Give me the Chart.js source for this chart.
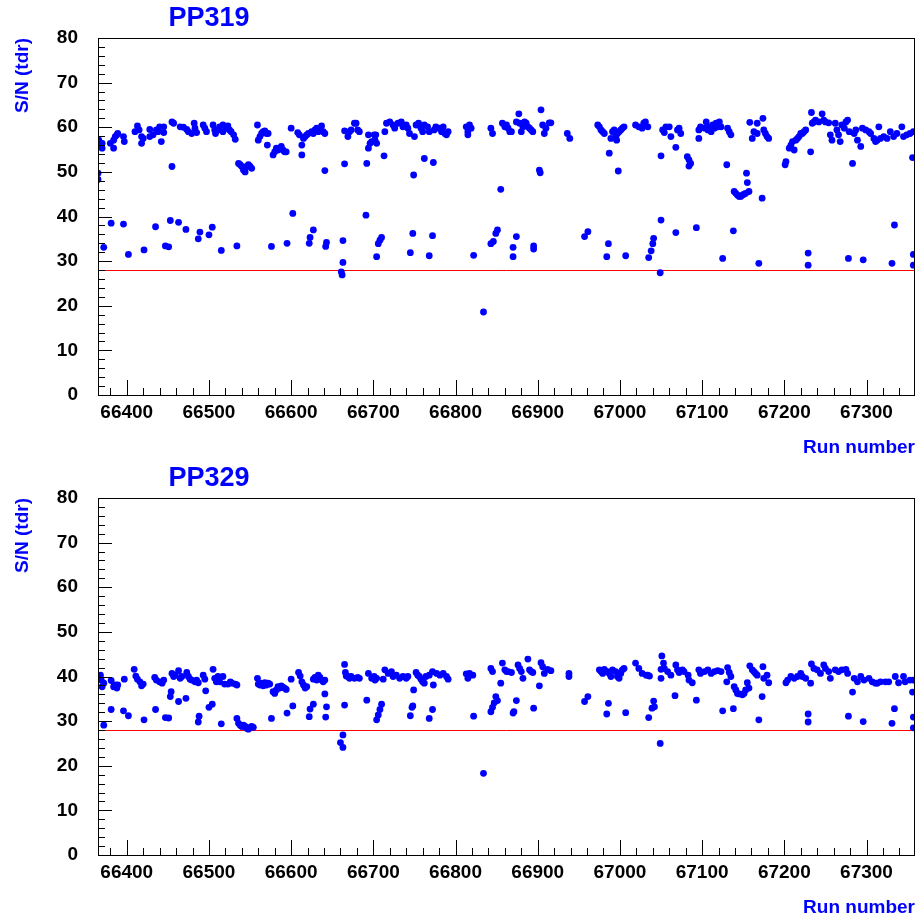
<!DOCTYPE html>
<html>
<head>
<meta charset="utf-8">
<script src="https://cdn.jsdelivr.net/npm/chart.js@4.4.1/dist/chart.umd.min.js"></script>
<style>
  body { margin: 0; background: #fff; }
  canvas { display: block; }
</style>
</head>
<body>
<canvas id="pp319" width="919" height="460"></canvas>
<canvas id="pp329" width="919" height="460"></canvas>
<script>
// axis ranges and tick labels
const runMin = 66365, runMax = 67359;
const snMin = 0, snMax = 80;
const runTicks = [66400, 66500, 66600, 66700, 66800, 66900, 67000, 67100, 67200, 67300];
const threshold = 28;

// PP319 : run number / S/N
const runs319 = [
  66365, 66365, 66366, 66368, 66370, 66370, 66380, 66384, 66384, 66386, 66388, 66389, 66396, 66397,
  66410, 66413, 66415, 66418, 66418, 66420, 66428, 66428, 66432, 66436, 66438, 66440, 66442, 66445, 66445,
  66455, 66457, 66455, 66465, 66469, 66473, 66475, 66479, 66482, 66483, 66485, 66493, 66495, 66497,
  66505, 66507, 66508, 66511, 66513, 66517, 66517, 66521, 66523, 66525, 66527, 66530, 66532,
  66536, 66538, 66540, 66542, 66544, 66546, 66548, 66550, 66552,
  66559, 66560, 66562, 66564, 66566, 66568, 66570, 66572, 66571,
  66578, 66580, 66582, 66584, 66586, 66588, 66590, 66592, 66594,
  66600, 66608, 66610, 66613, 66613, 66615, 66617, 66619, 66621,
  66625, 66627, 66629, 66631, 66633, 66635, 66637, 66639, 66641, 66641,
  66661, 66662, 66663, 66663, 66665, 66665, 66669, 66671, 66673, 66677, 66679, 66681, 66683,
  66691, 66692, 66694, 66696, 66694, 66698, 66701,
  66372, 66381, 66396, 66402, 66421, 66435, 66447, 66451, 66453, 66463, 66472, 66487, 66489,
  66500, 66504, 66515, 66534, 66576, 66595, 66602, 66622, 66623, 66627, 66642, 66643,
  66702, 66704, 66703, 66713, 66714, 66716, 66720, 66724, 66726, 66730, 66734, 66736, 66740, 66742, 66744,
  66749, 66750, 66752, 66755, 66758, 66760, 66762, 66762, 66766, 66768, 66773,
  66774, 66776, 66780, 66783, 66785, 66787, 66789, 66791,
  66813, 66815, 66817, 66819, 66815, 66843, 66845, 66855,
  66857, 66860, 66862, 66864, 66866, 66868,
  66874, 66877, 66878, 66880, 66882, 66884, 66886, 66888, 66890, 66892, 66894,
  66902, 66903, 66904, 66906, 66908, 66910, 66914, 66916, 66936, 66939,
  66973, 66975, 66977, 66979, 66981, 66987, 66989, 66991, 66993, 66995, 66996, 66997, 66998, 66999, 67001, 67003, 67005,
  67019, 67023, 67027, 67029, 67031, 67034,
  66704, 66706, 66708, 66710, 66745, 66748, 66768, 66772, 66822, 66834,
  66843, 66846, 66849, 66851, 66870, 66870, 66874, 66895, 66895, 66957, 66961, 66984, 66986, 67007, 67035,
  67050, 67052, 67054, 67056, 67060, 67062, 67068, 67070, 67072, 67074,
  67082, 67084, 67084, 67086,
  67096, 67096, 67098, 67103, 67105, 67107, 67109, 67111, 67113, 67115, 67117, 67119, 67121, 67123,
  67130, 67131, 67133, 67135,
  67139, 67141, 67143, 67145, 67147, 67149, 67151, 67153, 67154, 67155, 67157,
  67158, 67161, 67163, 67167, 67167, 67173, 67174, 67175, 67177, 67179, 67181,
  67201, 67202, 67206, 67208, 67210, 67212, 67214, 67216, 67218, 67220, 67222, 67224, 67226,
  67232, 67233, 67234, 67236, 67238, 67242, 67246, 67248, 67250, 67254,
  67256, 67258, 67262, 67264, 67266, 67268, 67270, 67273, 67275, 67277, 67279, 67283,
  67285, 67287, 67289, 67293, 67295, 67299, 67303, 67305, 67309, 67311, 67313, 67315,
  67317, 67321, 67325, 67329, 67333, 67337, 67343, 67345, 67349, 67353, 67357, 67356,
  67038, 67040, 67041, 67049, 67050, 67068, 67093, 67125, 67138, 67169,
  67229, 67229, 67278, 67296, 67331, 67334, 67357, 67357
];
const sn319 = [
  49.7, 48.3, 57.1, 56.4, 55.3, 56.4, 56.4, 57.1, 55.3, 57.9, 58.3, 58.6, 57.9, 56.8,
  59.0, 60.3, 59.4, 57.9, 56.4, 57.5, 59.5, 57.9, 58.3, 59.4, 59.0, 60.1, 56.8, 60.1, 58.8,
  61.2, 60.9, 51.2, 60.1, 60.0, 59.5, 59.0, 58.6, 60.9, 59.8, 58.8, 60.5, 59.8, 59.0,
  60.5, 59.4, 58.6, 59.4, 60.1, 60.5, 59.0, 59.8, 60.3, 59.4, 59.0, 58.3, 57.3,
  51.9, 51.6, 51.2, 50.4, 50.0, 51.2, 51.6, 51.2, 50.8,
  60.5, 57.1, 57.9, 58.6, 59.0, 59.2, 58.6, 58.6, 56.0,
  53.8, 54.5, 55.3, 54.9, 55.3, 55.7, 54.9, 54.5, 54.5,
  59.8, 58.8, 58.3, 56.0, 53.8, 57.5, 57.9, 58.3, 58.6,
  59.0, 58.6, 59.4, 59.8, 59.0, 59.4, 60.3, 59.0, 58.6, 50.3,
  27.6, 26.9, 29.7, 34.6, 51.8, 59.2, 57.9, 59.0, 59.4, 60.9, 60.9, 59.4, 59.0,
  40.3, 51.9, 58.3, 56.4, 55.3, 56.8, 58.3,
  33.1, 38.5, 38.3, 31.5, 32.5, 37.7, 33.4, 33.2, 39.1, 38.7, 37.1, 35.0, 36.5,
  35.9, 37.6, 32.4, 33.4, 33.3, 34.0, 40.7, 34.0, 35.3, 37.0, 33.3, 34.2,
  57.1, 56.4, 58.3, 53.6, 59.0, 60.9, 61.2, 60.5, 59.8, 60.9, 61.2, 60.1, 60.5, 59.8, 58.6,
  49.3, 57.9, 60.5, 60.9, 59.8, 59.0, 60.5, 53.0, 60.1, 59.0, 52.1,
  59.4, 60.1, 59.8, 59.0, 60.1, 58.6, 58.3, 59.0,
  60.1, 59.0, 60.5, 59.8, 58.3, 59.8, 58.6, 46.1,
  60.9, 60.1, 60.5, 59.8, 59.0, 59.0,
  61.2, 63.0, 60.9, 59.0, 60.1, 61.2, 60.9, 60.1, 59.8, 59.4, 59.0,
  50.4, 49.8, 63.9, 60.5, 58.6, 59.8, 61.0, 61.0, 58.6, 57.5,
  60.5, 60.1, 59.4, 59.0, 58.6, 54.2, 57.5, 59.0, 59.4, 57.9, 57.1, 58.6, 50.2, 59.0, 59.4, 59.8, 60.1,
  60.5, 60.1, 59.8, 60.9, 61.2, 60.1,
  31.0, 33.9, 34.7, 35.3, 31.9, 36.2, 31.2, 35.7, 31.3, 18.6,
  33.9, 34.4, 36.2, 37.0, 33.1, 31.0, 35.5, 33.4, 32.7, 35.5, 36.6, 31.0, 33.9, 31.2, 30.8,
  53.6, 59.4, 58.8, 60.1, 60.1, 57.9, 55.5, 59.4, 59.8, 58.6,
  53.4, 52.7, 51.3, 51.9,
  57.5, 59.4, 60.1, 59.8, 61.2, 59.4, 60.1, 59.0, 60.5, 59.8, 60.9, 60.1, 61.2, 60.1,
  51.6, 59.8, 59.0, 58.3,
  45.6, 45.2, 44.8, 44.5, 44.5, 44.8, 45.0, 45.2, 49.7, 47.6, 45.6,
  61.1, 57.5, 59.0, 60.9, 58.6, 44.1, 62.0, 59.4, 58.6, 57.9, 57.5,
  51.6, 52.3, 55.3, 56.0, 56.8, 54.9, 57.1, 57.5, 57.9, 58.6, 58.6, 59.0, 59.4,
  54.5, 63.3, 60.9, 61.2, 61.6, 61.2, 63.0, 61.6, 61.2, 61.0,
  58.3, 57.1, 60.9, 59.4, 58.3, 56.8, 60.5, 59.8, 61.2, 61.6, 59.0, 51.9,
  58.6, 59.4, 57.1, 55.7, 59.8, 59.4, 59.0, 58.6, 57.5, 56.8, 57.1, 60.1,
  57.5, 57.9, 57.5, 59.0, 57.9, 58.6, 60.1, 57.9, 58.3, 58.6, 59.0, 53.2,
  32.3, 33.9, 35.1, 27.4, 39.2, 36.4, 37.5, 30.6, 36.8, 29.5,
  31.8, 29.1, 30.6, 30.3, 29.5, 38.1, 31.5, 29.1
];

// PP329 : run number / S/N
const runs329 = [
  66368, 66369, 66370, 66372, 66381, 66384, 66386, 66388, 66389, 66397,
  66409, 66411, 66413, 66416, 66418, 66420, 66434, 66436, 66440, 66443, 66445,
  66454, 66453, 66455, 66457, 66459, 66463, 66465, 66467, 66473, 66475, 66477, 66479, 66483, 66485, 66487,
  66463, 66472, 66493, 66495, 66496, 66505, 66507, 66509, 66511, 66513, 66517, 66519, 66523, 66526, 66528, 66532, 66534,
  66534, 66536, 66538, 66540, 66542, 66544, 66546, 66548, 66550, 66552, 66554,
  66559, 66560, 66562, 66564, 66566, 66568, 66570, 66572, 66574,
  66578, 66580, 66582, 66584, 66586, 66588, 66590, 66592, 66594,
  66600, 66609, 66611, 66613, 66615, 66617, 66619,
  66627, 66629, 66631, 66633, 66635, 66637, 66639, 66641, 66641,
  66665, 66666, 66667, 66669, 66671, 66673, 66677, 66681, 66683, 66665, 66663, 66660, 66663,
  66692, 66694, 66698, 66701,
  66372, 66381, 66396, 66402, 66421, 66435, 66447, 66451, 66488, 66487, 66500,
  66504, 66515, 66576, 66595, 66602, 66622, 66623, 66627, 66642, 66643,
  66702, 66704, 66712, 66714, 66718, 66722, 66724, 66728, 66732, 66736, 66740, 66742,
  66749, 66752, 66754, 66756, 66758, 66760, 66762, 66764, 66768, 66772, 66773, 66777, 66781, 66785, 66789, 66791,
  66813, 66815, 66817, 66821, 66843, 66845, 66855,
  66857, 66860, 66862, 66864, 66868, 66876, 66878, 66880, 66882, 66888, 66890, 66892, 66894,
  66902, 66904, 66906, 66908, 66912, 66916, 66938, 66938,
  66975, 66977, 66979, 66981, 66985, 66987, 66989, 66991, 66995, 66997, 66999, 67001, 67003, 67005,
  67019, 67023, 67027, 67032, 67034, 67036,
  66704, 66706, 66708, 66710, 66745, 66747, 66748, 66768, 66772, 66822, 66834,
  66843, 66845, 66847, 66849, 66851, 66870, 66871, 66874, 66895, 66957, 66961, 66984, 66986, 67007, 67035,
  67050, 67051, 67053, 67050, 67054, 67058, 67062, 67068, 67070, 67072, 67076, 67078, 67083, 67084, 67088,
  67067, 67093, 67096, 67098, 67103, 67107, 67111, 67115, 67119, 67123,
  67130, 67131, 67133, 67135, 67139, 67141, 67143, 67145, 67149, 67151, 67153, 67155, 67157,
  67158, 67161, 67163, 67165, 67167, 67173, 67174, 67175, 67179, 67181,
  67202, 67204, 67208, 67212, 67216, 67220, 67222, 67226,
  67232, 67233, 67236, 67240, 67244, 67248, 67250, 67254, 67256, 67262, 67266, 67270, 67275, 67277, 67283,
  67285, 67289, 67293, 67297, 67303, 67307, 67311, 67313, 67317, 67323, 67327, 67335, 67339, 67345, 67347, 67353, 67357, 67356,
  67039, 67042, 67041, 67049, 67125, 67138, 67169, 67229, 67229, 67278, 67296, 67331, 67334, 67357, 67357
];
const sn329 = [
  40.3, 39.2, 37.7, 38.5, 39.1, 37.7, 38.1, 37.4, 38.1, 39.4,
  41.6, 40.1, 39.4, 38.8, 37.9, 38.3, 39.8, 39.2, 38.8, 38.5, 39.2,
  36.6, 35.5, 40.7, 40.0, 40.3, 41.3, 39.6, 40.0, 40.9, 40.0, 39.4, 39.2, 38.8, 39.2, 38.6,
  34.4, 35.1, 40.3, 39.4, 36.8, 41.6, 39.6, 38.8, 40.0, 38.8, 40.0, 38.3, 38.3, 38.8, 38.5, 38.3, 38.1,
  30.6, 29.5, 29.1, 28.8, 29.1, 28.8, 28.4, 28.2, 28.6, 28.8, 28.6,
  39.6, 38.3, 38.1, 38.5, 37.9, 38.6, 38.1, 38.5, 38.3,
  36.6, 36.2, 37.0, 37.7, 37.4, 37.9, 37.6, 37.4, 37.1,
  39.4, 40.9, 40.1, 38.8, 38.1, 37.4, 37.7,
  39.4, 39.8, 39.2, 40.3, 39.8, 39.2, 38.8, 39.2, 36.1,
  42.7, 40.9, 40.1, 40.0, 39.6, 40.0, 39.6, 39.8, 39.6, 33.6, 26.9, 25.2, 24.1,
  34.7, 40.7, 39.6, 40.0,
  29.1, 32.6, 32.3, 31.2, 30.3, 32.6, 30.8, 30.7, 31.1, 29.8, 33.1,
  33.8, 29.4, 30.6, 31.8, 33.4, 31.0, 32.7, 33.8, 30.9, 33.2,
  39.2, 39.6, 39.4, 41.5, 40.7, 41.1, 40.0, 40.3, 39.6, 40.0, 39.6, 40.0,
  37.0, 40.9, 40.3, 40.0, 39.4, 38.8, 38.5, 40.0, 40.3, 41.1, 38.1, 40.7, 40.3, 40.7, 40.0, 39.4,
  40.6, 39.6, 40.7, 40.3, 41.8, 41.1, 38.5,
  43.0, 41.5, 41.1, 41.1, 40.9, 42.6, 41.8, 41.1, 39.6, 43.9, 41.5, 41.1, 40.9,
  37.9, 43.1, 42.2, 40.7, 41.6, 41.3, 40.7, 40.0,
  41.5, 41.1, 40.7, 41.6, 41.1, 40.7, 40.0, 41.5, 41.1, 40.0, 39.6, 40.7, 41.5, 41.8,
  43.0, 41.8, 40.7, 40.3, 40.3, 40.1,
  30.3, 31.4, 32.6, 33.8, 31.2, 33.1, 33.4, 30.6, 32.6, 31.1, 18.3,
  32.1, 33.1, 34.1, 35.5, 34.6, 31.8, 32.1, 34.6, 32.9, 34.4, 35.5, 31.6, 34.0, 31.9, 30.8,
  39.6, 44.6, 43.0, 41.6, 41.8, 41.1, 40.3, 42.6, 41.5, 40.9, 41.5, 41.1, 40.3, 39.2, 38.6,
  35.7, 34.7, 41.5, 40.7, 41.1, 41.5, 40.7, 41.1, 41.3, 41.1,
  38.8, 42.0, 40.9, 40.0, 37.7, 37.0, 36.2, 36.1, 35.9, 36.2, 37.0, 38.6, 37.4,
  42.4, 41.5, 41.1, 40.7, 40.3, 35.5, 42.2, 39.6, 40.3, 38.6,
  38.6, 39.2, 40.0, 39.6, 40.0, 40.7, 40.0, 39.6,
  38.5, 42.8, 41.8, 41.5, 40.7, 42.6, 41.8, 41.1, 39.6, 41.5, 41.1, 41.5, 41.6, 40.7, 36.5,
  39.6, 38.8, 40.0, 39.2, 39.6, 38.8, 38.5, 38.5, 38.8, 38.8, 38.8, 40.0, 38.6, 40.0, 38.8, 39.2, 39.2, 36.5,
  32.9, 33.2, 34.5, 25.0, 32.3, 32.8, 30.3, 31.6, 29.8, 31.1, 29.9, 29.5, 32.8, 30.9, 28.5
];

const FONT = '"Liberation Sans", Arial, Helvetica, sans-serif';
const BLUE = '#0000ff';

// ROOT-style frame: red cut line under the points, inward ticks, box and pad title on top
const rootFrame = {
  id: 'rootFrame',
  beforeDatasetsDraw(chart) {
    const { ctx, chartArea: a, scales: { y } } = chart;
    const py = Math.round(y.getPixelForValue(threshold)) + 0.5;
    ctx.save();
    ctx.strokeStyle = '#ff0000';
    ctx.lineWidth = 1;
    ctx.beginPath();
    ctx.moveTo(a.left, py);
    ctx.lineTo(a.right, py);
    ctx.stroke();
    ctx.restore();
  },
  afterDatasetsDraw(chart, args, opts) {
    const { ctx, chartArea: a, scales: { x, y } } = chart;
    ctx.save();
    ctx.strokeStyle = '#000';
    ctx.lineWidth = 1;
    ctx.beginPath();
    for (let v = snMin; v <= snMax; v += 2) {
      const py = Math.round(y.getPixelForValue(v)) + 0.5;
      const len = v % 10 === 0 ? 14 : 7;
      ctx.moveTo(a.left, py);
      ctx.lineTo(a.left + len, py);
    }
    for (let v = Math.ceil(runMin / 20) * 20; v <= runMax; v += 20) {
      const px = Math.round(x.getPixelForValue(v)) + 0.5;
      const len = v % 100 === 0 ? 15 : 7;
      ctx.moveTo(px, a.bottom);
      ctx.lineTo(px, a.bottom - len);
    }
    ctx.stroke();
    ctx.strokeRect(Math.round(a.left) + 0.5, Math.round(a.top) + 0.5,
                   Math.round(a.right - a.left) - 1, Math.round(a.bottom - a.top));
    ctx.fillStyle = BLUE;
    ctx.font = 'bold 27px ' + FONT;
    ctx.textAlign = 'center';
    ctx.textBaseline = 'middle';
    ctx.fillText(opts.text, 209, 19);
    ctx.restore();
  }
};

function makeChart(id, title, runs, sn) {
  const points = runs.map((r, i) => ({ x: r, y: sn[i] }));
  return new Chart(document.getElementById(id), {
    type: 'scatter',
    data: {
      datasets: [{
        data: points,
        pointRadius: 3.4,
        pointBackgroundColor: BLUE,
        pointBorderWidth: 0,
        clip: 0
      }]
    },
    options: {
      responsive: false,
      animation: false,
      events: [],
      layout: { padding: { top: 38, right: 3, left: 0, bottom: 0 } },
      plugins: {
        legend: { display: false },
        tooltip: { enabled: false },
        rootFrame: { text: title }
      },
      scales: {
        x: {
          type: 'linear',
          min: runMin,
          max: runMax,
          grid: { display: false, drawTicks: false },
          border: { display: false },
          afterBuildTicks: s => { s.ticks = runTicks.map(v => ({ value: v })); },
          ticks: {
            autoSkip: false,
            maxRotation: 0,
            padding: 6,
            color: '#000',
            font: { family: FONT, size: 19, weight: 'bold' },
            callback: v => String(v)
          },
          title: {
            display: true,
            text: 'Run number',
            align: 'end',
            color: BLUE,
            padding: { top: 0, bottom: 1 },
            font: { family: FONT, size: 19, weight: 'bold' }
          },
          afterFit: s => { s.height = 65; }
        },
        y: {
          min: snMin,
          max: snMax,
          grid: { display: false, drawTicks: false },
          border: { display: false },
          ticks: {
            stepSize: 10,
            padding: 20,
            color: '#000',
            font: { family: FONT, size: 19, weight: 'bold' }
          },
          title: {
            display: true,
            text: 'S/N (tdr)',
            align: 'end',
            color: BLUE,
            padding: { top: 11, bottom: 0 },
            font: { family: FONT, size: 19, weight: 'bold' }
          },
          afterFit: s => { s.width = 98; }
        }
      }
    },
    plugins: [rootFrame]
  });
}

makeChart('pp319', 'PP319', runs319, sn319);
makeChart('pp329', 'PP329', runs329, sn329);
</script>
</body>
</html>
